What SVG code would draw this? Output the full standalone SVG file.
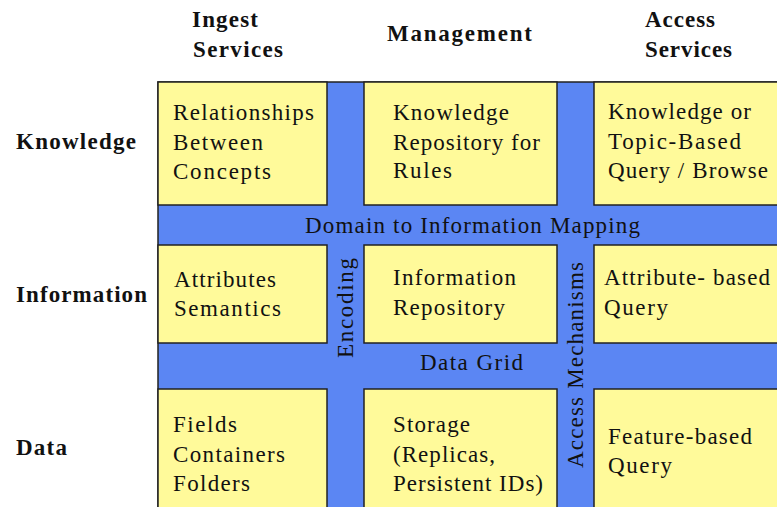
<svg xmlns="http://www.w3.org/2000/svg" width="777" height="507" viewBox="0 0 777 507">
<style>
.bg{fill:#5B86F3;stroke:#222;stroke-width:1.5}
.box{fill:#FFFA9A;stroke:#222;stroke-width:1.5}
.t{font-size:23px;fill:#111}
.h{font-weight:bold}
</style>
<rect width="777" height="507" fill="#fff"/>
<g id="frame"><rect class="bg" x="158" y="82" width="640" height="440"/></g>
<g font-family="'Liberation Serif', 'Times New Roman', Times, serif">
<g id="headers" class="t">
<text class="h" x="192" y="27" textLength="66" lengthAdjust="spacing">Ingest</text>
<text class="h" x="193" y="57" textLength="90" lengthAdjust="spacing">Services</text>
<text class="h" x="387" y="41" textLength="145" lengthAdjust="spacing">Management</text>
<text class="h" x="645" y="27" textLength="70" lengthAdjust="spacing">Access</text>
<text class="h" x="645" y="57" textLength="87" lengthAdjust="spacing">Services</text>
<text class="h" x="16" y="149" textLength="120" lengthAdjust="spacing">Knowledge</text>
<text class="h" x="16" y="302" textLength="131" lengthAdjust="spacing">Information</text>
<text class="h" x="16" y="455" textLength="51" lengthAdjust="spacing">Data</text>
</g>
<g id="k-ingest" class="t"><rect class="box" x="158" y="82" width="169" height="123"/>
<text x="173" y="120" textLength="141" lengthAdjust="spacing">Relationships</text>
<text x="173" y="150" textLength="90" lengthAdjust="spacing">Between</text>
<text x="173" y="179" textLength="98" lengthAdjust="spacing">Concepts</text></g>
<g id="k-mgmt" class="t"><rect class="box" x="364" y="82" width="193" height="123"/>
<text x="393" y="120" textLength="116" lengthAdjust="spacing">Knowledge</text>
<text x="393" y="150" textLength="147" lengthAdjust="spacing">Repository for</text>
<text x="393" y="178" textLength="59" lengthAdjust="spacing">Rules</text></g>
<g id="k-access" class="t"><rect class="box" x="594" y="82" width="200" height="123"/>
<text x="608" y="119" textLength="143" lengthAdjust="spacing">Knowledge or</text>
<text x="608" y="149" textLength="133" lengthAdjust="spacing">Topic-Based</text>
<text x="608" y="178" textLength="160" lengthAdjust="spacing">Query / Browse</text></g>
<g id="i-ingest" class="t"><rect class="box" x="158" y="245" width="169" height="98"/>
<text x="174" y="287" textLength="102" lengthAdjust="spacing">Attributes</text>
<text x="174" y="316" textLength="107" lengthAdjust="spacing">Semantics</text></g>
<g id="i-mgmt" class="t"><rect class="box" x="364" y="245" width="193" height="98"/>
<text x="393" y="285" textLength="123" lengthAdjust="spacing">Information</text>
<text x="393" y="315" textLength="112" lengthAdjust="spacing">Repository</text></g>
<g id="i-access" class="t"><rect class="box" x="594" y="245" width="200" height="98"/>
<text x="604" y="285" textLength="166" lengthAdjust="spacing">Attribute- based</text>
<text x="604" y="315" textLength="64" lengthAdjust="spacing">Query</text></g>
<g id="d-ingest" class="t"><rect class="box" x="158" y="389" width="169" height="130"/>
<text x="173" y="432" textLength="64" lengthAdjust="spacing">Fields</text>
<text x="173" y="462" textLength="112" lengthAdjust="spacing">Containers</text>
<text x="173" y="491" textLength="77" lengthAdjust="spacing">Folders</text></g>
<g id="d-mgmt" class="t"><rect class="box" x="364" y="389" width="193" height="130"/>
<text x="393" y="432" textLength="77" lengthAdjust="spacing">Storage</text>
<text x="393" y="462" textLength="102" lengthAdjust="spacing">(Replicas,</text>
<text x="393" y="491" textLength="150" lengthAdjust="spacing">Persistent IDs)</text></g>
<g id="d-access" class="t"><rect class="box" x="594" y="389" width="200" height="130"/>
<text x="608" y="444" textLength="144" lengthAdjust="spacing">Feature-based</text>
<text x="608" y="473" textLength="64" lengthAdjust="spacing">Query</text></g>
<g id="bands" class="t">
<text x="305" y="233" textLength="335" lengthAdjust="spacing">Domain to Information Mapping</text>
<text x="420" y="370" textLength="103" lengthAdjust="spacing">Data Grid</text>
<text transform="translate(353,358) rotate(-90)" textLength="100" lengthAdjust="spacing">Encoding</text>
<text transform="translate(583,468) rotate(-90)" textLength="206" lengthAdjust="spacing">Access Mechanisms</text>
</g>
</g>
</svg>
